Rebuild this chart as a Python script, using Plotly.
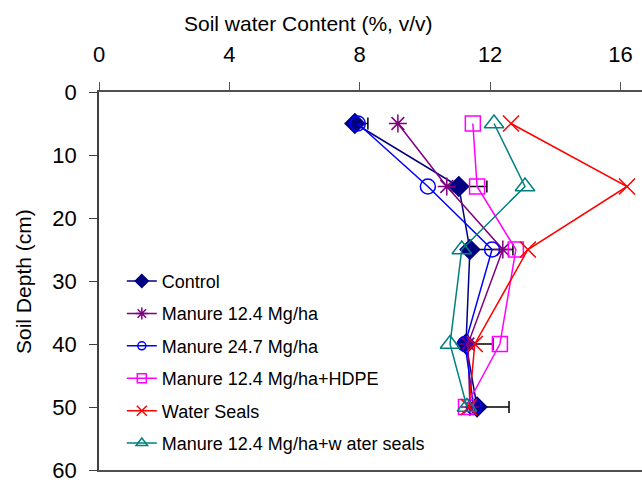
import plotly.graph_objects as go

depth = [5, 15, 25, 40, 50]

control = [7.85, 11.04, 11.38, 11.26, 11.6]
control_err = [0.40, 0.86, 1.32, 0.83, 0.98]
manure_124 = [9.17, 10.67, 12.39, 11.32, 11.38]
manure_247 = [7.94, 10.09, 12.06, 11.23, 11.5]
manure_hdpe = [11.47, 11.6, 12.79, 12.3, 11.26]
water_seals = [12.64, 16.2, 13.16, 11.53, 11.35]
manure_ws = [12.12, 13.07, 11.13, 10.77, 11.29]

x_ticks = [0, 4, 8, 12, 16]
y_ticks = [0, 10, 20, 30, 40, 50, 60]

FONT = "Liberation Sans, Arial, sans-serif"

series = [
    ("Control", control, "#000080", "diamond", 15, 10),
    ("Manure 12.4 Mg/ha", manure_124, "#800080", "asterisk-open", 15, 10),
    ("Manure 24.7 Mg/ha", manure_247, "#0000FF", "circle-open", 15, 8),
    ("Manure 12.4 Mg/ha+HDPE", manure_hdpe, "#FF00FF", "square-open", 15, 9),
    ("Water Seals", water_seals, "#FF0000", "x-thin-open", 16, 10),
    ("Manure 12.4 Mg/ha+w ater seals", manure_ws, "#008080", "triangle-up-open", 17, 10),
]

fig = go.Figure()
for i, (name, vals, color, sym, size, lsize) in enumerate(series):
    kw = {}
    if name == "Control":
        kw["error_x"] = dict(type="data", symmetric=False, array=control_err,
                             arrayminus=[0] * len(control_err), color="black",
                             thickness=1.5, width=6)
    fig.add_trace(go.Scatter(
        x=vals, y=depth, name=name, mode="lines+markers",
        line=dict(color=color, width=1.5),
        marker=dict(symbol=sym, size=size, color=color,
                    line=dict(color=color, width=1.5)),
        showlegend=False,
        **kw,
    ))

# legend-only entries with smaller markers, as in the reference legend
for i, (name, vals, color, sym, size, lsize) in enumerate(series):
    fig.add_trace(go.Scatter(
        x=[None], y=[None], name=name, mode="lines+markers",
        line=dict(color=color, width=1.5),
        marker=dict(symbol=sym, size=lsize, color=color,
                    line=dict(color=color, width=1.5)),
        legendgroup=f"g{i}", showlegend=True,
    ))

fig.update_layout(
    width=642, height=483,
    margin=dict(l=99, r=0, t=92, b=13),
    plot_bgcolor="white", paper_bgcolor="white",
    font=dict(family=FONT, color="black"),
    showlegend=True,
    legend=dict(x=0.042, y=0.548, xanchor="left", yanchor="top",
                bgcolor="rgba(255,255,255,0)", font=dict(size=18, family=FONT),
                tracegroupgap=6),
    xaxis=dict(side="top", range=[0, 16.66], tickvals=x_ticks,
               showgrid=False, zeroline=False, showline=True, mirror=True,
               linecolor="#505050", linewidth=1.5, ticks="outside", ticklen=8,
               tickcolor="#505050", tickfont=dict(size=22, family=FONT),
               ticklabelstandoff=11),
    yaxis=dict(range=[60, 0], tickvals=y_ticks, showgrid=False, zeroline=False,
               showline=True, linecolor="#404040", linewidth=1.5,
               ticks="outside", ticklen=8, tickcolor="#404040",
               tickfont=dict(size=22, family=FONT), ticklabelstandoff=8),
    annotations=[
        dict(text="Soil water Content (%, v/v)", xref="paper", yref="paper",
             x=0.385, y=1.18, xanchor="center", yanchor="middle",
             showarrow=False, font=dict(size=21, family=FONT)),
        dict(text="Soil Depth (cm)", xref="paper", yref="paper",
             x=-0.14, y=0.5, xanchor="center", yanchor="middle",
             textangle=-90, showarrow=False, font=dict(size=21, family=FONT)),
    ],
)

fig.write_html("out.html")
